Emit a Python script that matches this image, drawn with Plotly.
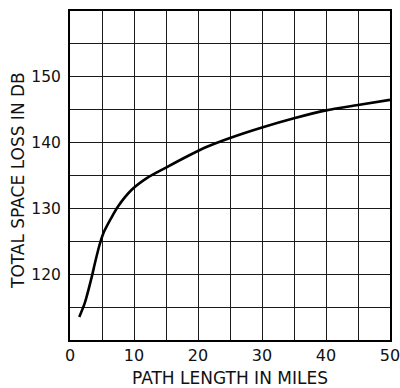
import plotly.graph_objects as go

# Data
path_miles = [1.45, 2.3, 3.4, 3.9, 4.6, 5.2, 6.25, 7.5, 9.6, 12, 15, 18.5, 21.5, 25, 30, 35, 40, 45, 50]
loss_db = [113.5, 115.6, 119.6, 121.7, 124.4, 126.2, 128.2, 130.3, 132.8, 134.6, 136.2, 138.0, 139.4, 140.7, 142.3, 143.7, 144.9, 145.7, 146.5]

x_ticks = [0, 10, 20, 30, 40, 50]
y_ticks = [120, 130, 140, 150]

x_title = "PATH LENGTH IN MILES"
y_title = "TOTAL SPACE LOSS IN DB"

W, H = 400, 388
L, R, T, B = 70, 10, 11, 48
ph = H - T - B
pw = W - L - R

fig = go.Figure()
fig.add_trace(go.Scatter(
    x=path_miles, y=loss_db, mode="lines",
    line=dict(color="black", width=2.6, shape="spline", smoothing=0.8),
    hoverinfo="skip", showlegend=False,
))

grid = dict(showgrid=True, gridcolor="#1a1a1a", gridwidth=1.2,
            minor=dict(dtick=5, showgrid=True, gridcolor="#1a1a1a", gridwidth=1.2, ticks=""),
            showline=True, linecolor="black", linewidth=2, mirror=True,
            ticks="", zeroline=False, layer="below traces", automargin=False,
            ticklabeloverflow="allow")

fig.update_layout(
    template="none",
    width=W, height=H, autosize=False,
    margin=dict(l=L, r=R, t=T, b=B, autoexpand=False),
    paper_bgcolor="white", plot_bgcolor="white",
    font=dict(family="DejaVu Sans", color="#111", size=15),
    xaxis=dict(range=[0, 50], tickvals=x_ticks, ticktext=[str(v) for v in x_ticks],
               tickfont=dict(family="DejaVu Sans", size=16), **grid),
    yaxis=dict(range=[110, 160], tickvals=y_ticks, ticktext=[str(v) for v in y_ticks],
               tickfont=dict(family="DejaVu Sans", size=15.5), ticklabelstandoff=4,
               **grid),
    annotations=[
        dict(text=x_title, xref="paper", yref="paper", x=0.5, y=(340 - 378) / ph,
             xanchor="center", yanchor="middle", showarrow=False,
             font=dict(family="DejaVu Sans", size=17, color="#111")),
        dict(text=y_title, xref="paper", yref="paper", x=(18 - L) / pw, y=(340 - 181) / ph,
             xanchor="center", yanchor="middle", textangle=-90, showarrow=False,
             font=dict(family="DejaVu Sans", size=17, color="#111")),
    ],
)

fig.write_html("out.html", config={"displayModeBar": False},
               post_script="document.body.style.margin='0';document.body.style.overflow='hidden';")
